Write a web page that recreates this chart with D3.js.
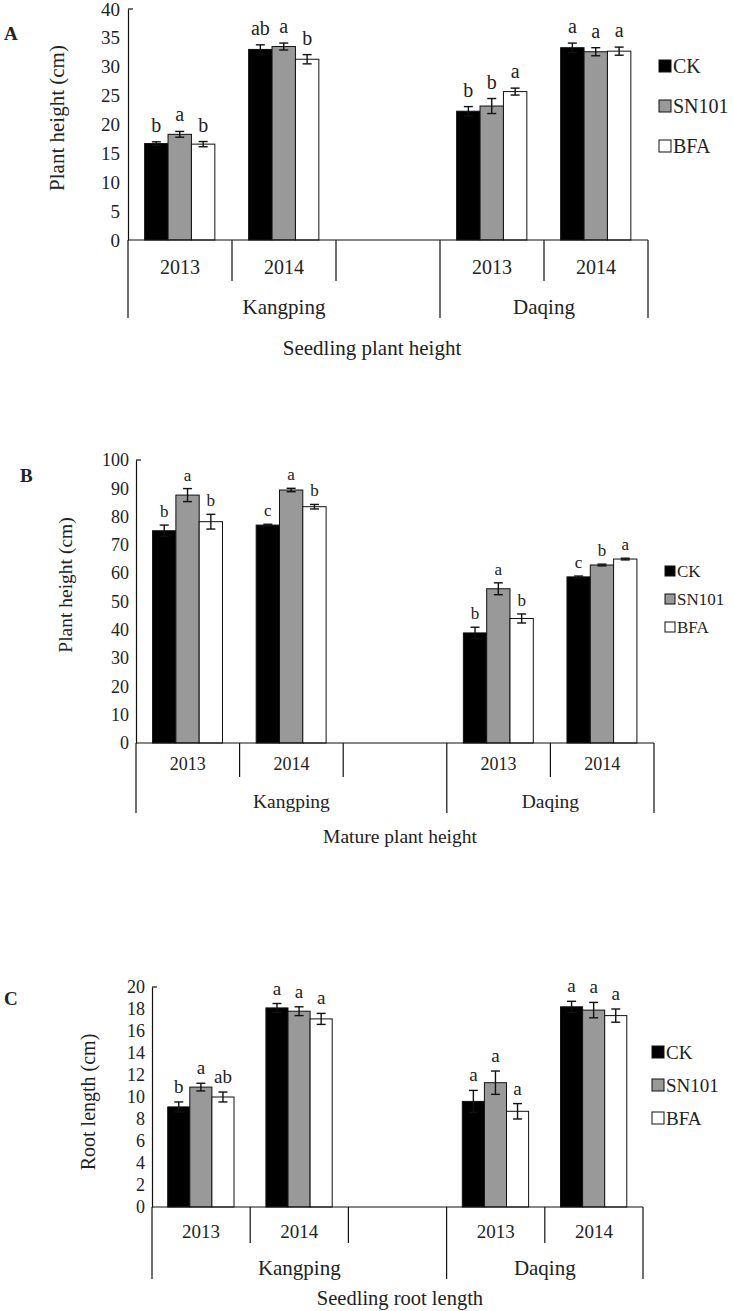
<!DOCTYPE html>
<html><head><meta charset="utf-8">
<script src="https://cdn.jsdelivr.net/npm/d3@7/dist/d3.min.js"></script>
<style>body{margin:0;background:#fff}svg{display:block}text{font-family:"Liberation Serif","Times New Roman",serif !important;fill:#222}</style>
</head><body><svg id="chart" width="734" height="1311" font-family="Liberation Serif, serif"></svg>
<script>
// ---- data ----
const series = ["CK", "SN101", "BFA"];
const seriesColors = ["#000000", "#999999", "#ffffff"];
const slots = ["Kangping 2013", "Kangping 2014", "", "Daqing 2013", "Daqing 2014"];
const yearLabels = ["2013", "2014", "", "2013", "2014"];
const sites = ["Kangping", "Daqing"];
const barSlots = ["Kangping 2013", "Kangping 2014", "Daqing 2013", "Daqing 2014"];

// Panel A: seedling plant height
const aCK = [16.7, 33.0, 22.3, 33.3];
const aCKerr = [0.3, 0.8, 0.8, 0.8];
const aSN = [18.3, 33.5, 23.2, 32.6];
const aSNerr = [0.5, 0.6, 1.3, 0.7];
const aBFA = [16.6, 31.3, 25.7, 32.7];
const aBFAerr = [0.45, 0.8, 0.6, 0.7];
const aCKsig = ["b", "ab", "b", "a"];
const aSNsig = ["a", "a", "b", "a"];
const aBFAsig = ["b", "b", "a", "a"];
const aTicks = [0, 5, 10, 15, 20, 25, 30, 35, 40];

// Panel B: mature plant height
const bCK = [75.0, 77.0, 38.9, 58.7];
const bCKerr = [2.0, 0.3, 2.0, 0.3];
const bSN = [87.6, 89.4, 54.5, 62.9];
const bSNerr = [2.3, 0.6, 2.1, 0.3];
const bBFA = [78.2, 83.5, 44.0, 65.0];
const bBFAerr = [2.6, 0.8, 1.6, 0.3];
const bCKsig = ["b", "c", "b", "c"];
const bSNsig = ["a", "a", "a", "b"];
const bBFAsig = ["b", "b", "b", "a"];
const bTicks = [0, 10, 20, 30, 40, 50, 60, 70, 80, 90, 100];

// Panel C: seedling root length
const cCK = [9.1, 18.1, 9.6, 18.2];
const cCKerr = [0.45, 0.4, 1.0, 0.5];
const cSN = [10.9, 17.8, 11.3, 17.9];
const cSNerr = [0.35, 0.4, 1.06, 0.7];
const cBFA = [10.0, 17.1, 8.7, 17.4];
const cBFAerr = [0.45, 0.5, 0.7, 0.6];
const cCKsig = ["b", "a", "a", "a"];
const cSNsig = ["a", "a", "a", "a"];
const cBFAsig = ["ab", "a", "a", "a"];
const cTicks = [0, 2, 4, 6, 8, 10, 12, 14, 16, 18, 20];

const svg = d3.select("#chart");
const SERIF = '"Liberation Serif", "Times New Roman", serif';

function panel(o) {
  const g = svg.append("g").attr("font-family", SERIF);
  const y = d3.scaleLinear().domain([0, o.ticks[o.ticks.length - 1]]).range([o.zero, o.top]);
  const x0 = d3.scaleBand().domain(slots).range([o.left, o.right]).padding(0);
  const bw = x0.bandwidth();
  const x1 = d3.scaleBand().domain(series).range([0.16 * bw, 0.835 * bw]).padding(0);

  series.forEach((s, si) => {
    barSlots.forEach((slot, ci) => {
      const v = o.vals[si][ci], e = o.errs[si][ci];
      const bx = x0(slot) + x1(s);
      g.append("rect").attr("x", bx).attr("y", y(v)).attr("width", x1.bandwidth()).attr("height", y(0) - y(v))
        .attr("fill", seriesColors[si]).attr("stroke", "#111").attr("stroke-width", 1);
      const cx = bx + x1.bandwidth() / 2;
      const eb = g.append("g").attr("stroke", "#111").attr("stroke-width", 1.4);
      eb.append("line").attr("x1", cx).attr("x2", cx).attr("y1", y(v - e)).attr("y2", y(v + e));
      eb.append("line").attr("x1", cx - 4.5).attr("x2", cx + 4.5).attr("y1", y(v - e)).attr("y2", y(v - e));
      eb.append("line").attr("x1", cx - 4.5).attr("x2", cx + 4.5).attr("y1", y(v + e)).attr("y2", y(v + e));
      g.append("text").attr("x", cx).attr("y", y(v + e) - o.sigGap).attr("text-anchor", "middle")
        .attr("font-family", SERIF).attr("font-size", o.sigFont).text(o.sigs[si][ci]);
    });
  });

  const ax = g.append("g").attr("transform", `translate(${o.left},0)`)
    .call(d3.axisLeft(y).tickValues(o.ticks).tickSize(0).tickSizeOuter(0).tickPadding(o.tickPad).tickFormat(d3.format("d")));
  ax.attr("font-family", SERIF);
  ax.select(".domain").attr("stroke", "#111").attr("stroke-width", 1.2);
  ax.selectAll("text").attr("font-size", o.tickFont).attr("fill", "#222").attr("font-family", SERIF);
  g.append("line").attr("x1", o.left).attr("x2", o.left + 5).attr("y1", o.top).attr("y2", o.top).attr("stroke", "#111").attr("stroke-width", 1.2);

  g.append("line").attr("x1", o.left).attr("x2", o.right).attr("y1", o.zero).attr("y2", o.zero).attr("stroke", "#111").attr("stroke-width", 1.2);
  const bounds = slots.map(s => x0(s)).concat([o.right]);
  const longIdx = [0, 3, 5];
  bounds.forEach((bx, i) => {
    g.append("line").attr("x1", bx).attr("x2", bx).attr("y1", o.zero)
      .attr("y2", longIdx.includes(i) ? o.longEnd : o.shortEnd).attr("stroke", "#111").attr("stroke-width", 1.2);
  });
  slots.forEach((s, i) => {
    if (!yearLabels[i]) return;
    g.append("text").attr("x", x0(s) + bw / 2).attr("y", o.yearY).attr("dy", "0.35em").attr("text-anchor", "middle")
      .attr("font-family", SERIF).attr("font-size", o.yearFont).text(yearLabels[i]);
  });
  g.append("text").attr("x", (x0(slots[0]) + x0(slots[3])) / 2).attr("y", o.siteY).attr("dy", "0.35em")
    .attr("text-anchor", "middle").attr("font-family", SERIF).attr("font-size", o.siteFont).text(sites[0]);
  g.append("text").attr("x", (x0(slots[3]) + o.right) / 2).attr("y", o.siteY).attr("dy", "0.35em")
    .attr("text-anchor", "middle").attr("font-family", SERIF).attr("font-size", o.siteFont).text(sites[1]);
  g.append("text").attr("x", o.titleX).attr("y", o.titleY).attr("dy", "0.35em")
    .attr("text-anchor", "middle").attr("font-family", SERIF).attr("font-size", o.titleFont).text(o.title);

  g.append("text").attr("transform", `translate(${o.ylabX},${o.ylabY}) rotate(-90)`).attr("dy", "0.35em")
    .attr("text-anchor", "middle").attr("font-family", SERIF).attr("font-size", o.ylabFont).text(o.ylab);

  g.append("text").attr("x", o.letX).attr("y", o.letY).attr("dy", "0.35em").attr("font-weight", "bold")
    .attr("font-family", SERIF).attr("font-size", 19).attr("fill", "#000").text(o.letter);

  series.forEach((s, i) => {
    const ly = o.legY + i * o.legStep;
    g.append("rect").attr("x", o.legX).attr("y", ly - o.legSq / 2).attr("width", o.legSq).attr("height", o.legSq)
      .attr("fill", seriesColors[i]).attr("stroke", "#111").attr("stroke-width", 1);
    g.append("text").attr("x", o.legX + o.legSq + 2).attr("y", ly).attr("dy", "0.35em")
      .attr("font-family", SERIF).attr("font-size", o.legFont).text(s);
  });
}

panel({
  vals: [aCK, aSN, aBFA], errs: [aCKerr, aSNerr, aBFAerr], sigs: [aCKsig, aSNsig, aBFAsig], ticks: aTicks,
  left: 128, right: 648, top: 9, zero: 240, tickPad: 8, tickFont: 19, sigFont: 20, sigGap: 10,
  yearY: 267, yearFont: 20, siteY: 307, siteFont: 21, titleY: 348, titleX: 372, titleFont: 21, title: "Seedling plant height",
  shortEnd: 281, longEnd: 318, ylabX: 57, ylabY: 118, ylabFont: 21, ylab: "Plant height (cm)",
  letter: "A", letX: 4, letY: 33, legX: 659, legY: 66, legStep: 40, legSq: 12, legFont: 20
});
panel({
  vals: [bCK, bSN, bBFA], errs: [bCKerr, bSNerr, bBFAerr], sigs: [bCKsig, bSNsig, bBFAsig], ticks: bTicks,
  left: 136, right: 654, top: 460, zero: 743, tickPad: 7, tickFont: 18, sigFont: 17, sigGap: 8,
  yearY: 764, yearFont: 18, siteY: 801, siteFont: 19.5, titleY: 836, titleX: 400, titleFont: 19.5, title: "Mature plant height",
  shortEnd: 777, longEnd: 813, ylabX: 65, ylabY: 585, ylabFont: 19.5, ylab: "Plant height (cm)",
  letter: "B", letX: 20, letY: 475, legX: 665, legY: 571, legStep: 28, legSq: 10, legFont: 17
});
panel({
  vals: [cCK, cSN, cBFA], errs: [cCKerr, cSNerr, cBFAerr], sigs: [cCKsig, cSNsig, cBFAsig], ticks: cTicks,
  left: 152, right: 643, top: 987, zero: 1207, tickPad: 7, tickFont: 18, sigFont: 19, sigGap: 9,
  yearY: 1231, yearFont: 19, siteY: 1268, siteFont: 21, titleY: 1298, titleX: 400, titleFont: 20.5, title: "Seedling root length",
  shortEnd: 1243, longEnd: 1279, ylabX: 88, ylabY: 1102, ylabFont: 20, ylab: "Root length (cm)",
  letter: "C", letX: 4, letY: 998, legX: 652, legY: 1052, legStep: 33, legSq: 12, legFont: 19
});
</script></body></html>
